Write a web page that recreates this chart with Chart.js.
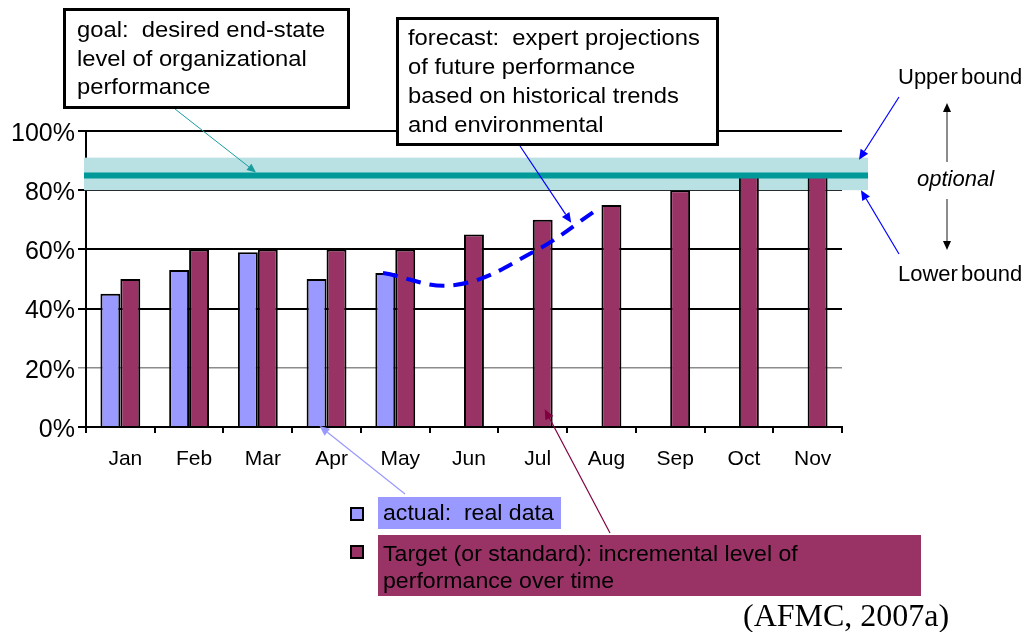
<!DOCTYPE html>
<html>
<head>
<meta charset="utf-8">
<title>Performance: goal, target, actual and forecast</title>
<script src="https://cdn.jsdelivr.net/npm/chart.js@4/dist/chart.umd.min.js"></script>
<style>
  html, body { margin: 0; padding: 0; background: #fff; }
  #wrap { position: relative; width: 1026px; height: 632px; overflow: hidden;
          font-family: Arial, "Liberation Sans", sans-serif; color: #000; }
  #chart { position: absolute; left: 0; top: 0; }
  .box { position: absolute; background: #fff; border: 3px solid #000; box-sizing: border-box; }
  .txt { white-space: pre; font-size: 22px; transform: scaleX(1.08); transform-origin: 0 0; }
  .lbl { position: absolute; white-space: pre; font-size: 22px; line-height: 22px; }
  .swatch { position: absolute; width: 14px; height: 14px; border: 2px solid #000; box-sizing: border-box; }
  .hl { position: absolute; box-sizing: border-box; }
  .hl .txt { transform: scaleX(1.05); }
  #cite { position: absolute; left: 743px; top: 599px; font-family: "Times New Roman", "Liberation Serif", serif;
          font-size: 32px; line-height: 32px; white-space: pre; }
</style>
</head>
<body>
<div id="wrap">
  <canvas id="chart" width="1026" height="632"></canvas>

  <div class="box" style="left:63px;top:8px;width:287px;height:101px;padding:5px 0 0 11px;">
    <div class="txt" style="line-height:28.5px;">goal:  desired end-state
level of organizational
performance</div>
  </div>

  <div class="box" style="left:396px;top:17px;width:323px;height:129px;padding:3px 0 0 9px;">
    <div class="txt" style="line-height:29px;">forecast:  expert projections
of future performance
based on historical trends
and environmental</div>
  </div>

  <div class="lbl" style="left:898px;top:66px;word-spacing:-3px;">Upper bound</div>
  <div class="lbl" style="left:917px;top:168px;font-style:italic;">optional</div>
  <div class="lbl" style="left:898px;top:263px;word-spacing:-3px;">Lower bound</div>

  <div class="swatch" style="left:350px;top:507px;background:#9999ff;"></div>
  <div class="hl" style="left:378px;top:497px;width:183px;height:32px;background:#9999ff;padding:0 0 0 5px;">
    <div class="txt" style="line-height:32px;">actual:  real data</div>
  </div>

  <div class="swatch" style="left:350px;top:545px;background:#993366;"></div>
  <div class="hl" style="left:378px;top:535px;width:543px;height:61px;background:#993366;padding:5px 0 0 5px;">
    <div class="txt" style="line-height:27px;">Target (or standard): incremental level of
performance over time</div>
  </div>

  <div id="cite">(AFMC, 2007a)</div>
</div>

<script>
// Monthly categories and series (percent of performance)
const months = ['Jan', 'Feb', 'Mar', 'Apr', 'May', 'Jun', 'Jul', 'Aug', 'Sep', 'Oct', 'Nov'];
const actualValues = [45, 53, 59, 50, 52, null, null, null, null, null, null];
const targetValues = [50, 60, 60, 60, 60, 65, 70, 75, 80, 85, 85];

// Forecast curve: positions along the month axis (0 = Jan) and projected values
const forecastPositions = [3.82, 4.87, 6.0, 6.97];
const forecastValues = [52, 48, 59, 74];

// Goal level with its optional upper / lower bounds
const goalLevel = 85;
const upperBound = 91;
const lowerBound = 80;

// Value axis tick labels
const yTickValues = [0, 20, 40, 60, 80, 100];

const COLORS = {
  actual: '#9999ff',
  target: '#993366',
  forecast: '#0000ff',
  goal: '#009999',
  band: '#b9e0e3'
};

function arrow(ctx, x1, y1, x2, y2, color, width, headLen, headW, headColor) {
  const ang = Math.atan2(y2 - y1, x2 - x1);
  const bx = x2 - Math.cos(ang) * headLen;
  const by = y2 - Math.sin(ang) * headLen;
  ctx.save();
  ctx.strokeStyle = color;
  ctx.lineWidth = width;
  ctx.beginPath();
  ctx.moveTo(x1, y1);
  ctx.lineTo(bx, by);
  ctx.stroke();
  ctx.fillStyle = headColor || color;
  ctx.beginPath();
  ctx.moveTo(x2, y2);
  ctx.lineTo(bx + Math.sin(ang) * headW, by - Math.cos(ang) * headW);
  ctx.lineTo(bx - Math.sin(ang) * headW, by + Math.cos(ang) * headW);
  ctx.closePath();
  ctx.fill();
  ctx.restore();
}

// Goal band behind the bars, goal line above them, and the annotation leaders
const goalPlugin = {
  id: 'goalPlugin',
  beforeDatasetsDraw(chart) {
    const { ctx, chartArea: a, scales: { y } } = chart;
    const top = y.getPixelForValue(upperBound);
    const bottom = y.getPixelForValue(lowerBound);
    ctx.save();
    ctx.fillStyle = COLORS.band;
    ctx.fillRect(a.left - 2, top, a.right + 26 - (a.left - 2), bottom - top);
    ctx.restore();
  },
  afterDatasetsDraw(chart) {
    const { ctx, chartArea: a, scales: { y } } = chart;
    const gy = y.getPixelForValue(goalLevel);
    ctx.save();
    ctx.strokeStyle = COLORS.goal;
    ctx.lineWidth = 6;
    ctx.beginPath();
    ctx.moveTo(a.left - 2, gy);
    ctx.lineTo(a.right + 26, gy);
    ctx.stroke();
    ctx.restore();
  },
  afterDraw(chart) {
    const { ctx, chartArea: a, scales: { x, y } } = chart;
    const gy = y.getPixelForValue(goalLevel);
    const uy = y.getPixelForValue(upperBound);
    const ly = y.getPixelForValue(lowerBound);

    // goal box -> goal line
    arrow(ctx, 175, 109, 256, gy - 3, '#1a9c9c', 1, 9, 4);
    // forecast box -> forecast curve
    arrow(ctx, 520, 146, x.getPixelForValue(6.56), y.getPixelForValue(69), COLORS.forecast, 1.2, 10, 4.5);
    // bound labels -> band edges
    arrow(ctx, 899, 97, a.right + 17, uy + 2, COLORS.forecast, 1.2, 10, 4.5);
    arrow(ctx, 899, 254, a.right + 19, ly, COLORS.forecast, 1.2, 10, 4.5);
    // legend entries -> bars
    arrow(ctx, 405, 494, x.getPixelForValue(3) - 7, y.getPixelForValue(0) - 1, COLORS.actual, 1.2, 10, 4.5);
    arrow(ctx, 610, 533, x.getPixelForValue(6) + 12, y.getPixelForValue(6), '#800040', 1.2, 10, 4.5);
    // "optional" double arrow
    arrow(ctx, 947, 162, 947, 103, '#666', 1.5, 9, 4, '#000');
    arrow(ctx, 947, 199, 947, 250, '#666', 1.5, 9, 4, '#000');
  }
};

new Chart(document.getElementById('chart'), {
  type: 'bar',
  data: {
    labels: months,
    datasets: [
      {
        label: 'actual',
        data: actualValues,
        backgroundColor: COLORS.actual,
        borderColor: '#000',
        borderWidth: 2,
        categoryPercentage: 0.58,
        barPercentage: 1.0,
        order: 2
      },
      {
        label: 'Target',
        data: targetValues,
        backgroundColor: COLORS.target,
        borderColor: '#000',
        borderWidth: 2,
        categoryPercentage: 0.58,
        barPercentage: 1.0,
        order: 2
      },
      {
        // fractional month positions are read directly as category-axis values
        type: 'line',
        label: 'forecast',
        parsing: false,
        data: forecastPositions.map((p, i) => ({ x: p, y: forecastValues[i] })),
        borderColor: COLORS.forecast,
        borderWidth: 4,
        borderDash: [15, 9],
        borderCapStyle: 'butt',
        tension: 0.4,
        pointRadius: 0,
        fill: false,
        order: 0
      }
    ]
  },
  options: {
    responsive: false,
    animation: false,
    devicePixelRatio: 1,
    layout: { padding: { left: 0, right: 184, top: 131, bottom: 155 } },
    plugins: { legend: { display: false }, tooltip: { enabled: false } },
    scales: {
      x: {
        type: 'category',
        offset: true,
        grid: { offset: true, drawOnChartArea: false, drawTicks: true, tickLength: 6, color: '#000', lineWidth: 2 },
        border: { color: '#000', width: 2 },
        ticks: {
          color: '#000',
          font: { family: 'Arial, "Liberation Sans", sans-serif', size: 21 },
          padding: 14,
          labelOffset: 5,
          maxRotation: 0,
          autoSkip: false
        },
        afterFit(scale) { scale.height = 50; }
      },
      y: {
        min: 0,
        max: 100,
        afterBuildTicks(scale) { scale.ticks = yTickValues.map(v => ({ value: v })); },
        ticks: {
          color: '#000',
          font: { family: 'Arial, "Liberation Sans", sans-serif', size: 25 },
          padding: 3,
          labelOffset: 3,
          callback: v => v + '%'
        },
        grid: {
          color: c => (c.tick && c.tick.value === 20) ? '#8c8c8c' : '#000',
          lineWidth: c => (c.tick && c.tick.value === 20) ? 1.5 : 2,
          tickLength: 8
        },
        border: { color: '#000', width: 2 },
        afterFit(scale) { scale.width = 86; }
      }
    }
  },
  plugins: [goalPlugin]
});
</script>
</body>
</html>
